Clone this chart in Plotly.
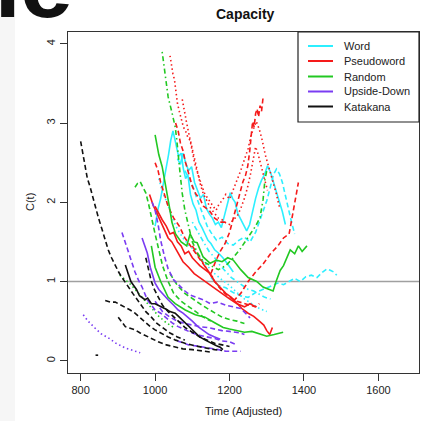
import plotly.graph_objects as go

# ---------------- data ----------------
categories = ["Word", "Pseudoword", "Random", "Upside-Down", "Katakana"]

word_t = [
    [1000,1008,1015,1022,1030,1036,1042,1048,1052,1057,1063,1070,1076,1082,1088,1095,1102,1110,1118,1126,1134,1142,1150,1160,1170,1182,1195,1210],
    [1060,1068,1075,1082,1090,1098,1106,1114,1122,1130,1138,1146,1154,1162,1170,1178,1186,1194,1202,1208,1215,1222,1230,1238,1246,1254,1262,1270,1278,1286,1294,1302,1310,1318,1326,1334,1342,1350],
    [1080,1090,1100,1110,1120,1130,1140,1150,1165,1180,1195,1210,1225,1240,1255,1270,1285,1300,1310,1318,1326,1334,1342,1350,1358,1366,1375],
    [1150,1170,1190,1210,1230,1250,1270,1290,1310,1330,1345,1360,1375,1390,1405,1420,1435,1450,1462,1472,1480,1488],
    [1010,1020,1030,1040,1050,1060,1075,1090,1105,1120,1140,1160,1180,1200,1220,1240,1260,1280,1300],
    [1100,1115,1130,1145,1160,1175,1190,1205,1220,1235,1250,1265,1280,1295,1310],
]
word_c = [
    [1.70,1.92,2.05,2.22,2.45,2.60,2.78,2.90,2.82,2.70,2.58,2.62,2.42,2.30,2.35,2.10,1.98,1.90,1.75,1.68,1.60,1.52,1.48,1.40,1.36,1.30,1.22,1.12],
    [2.55,2.48,2.62,2.50,2.40,2.45,2.25,2.15,2.05,2.10,1.92,1.85,1.80,1.72,1.75,1.68,1.82,1.98,2.12,2.05,2.00,1.86,1.78,1.70,1.64,1.72,1.90,2.05,2.18,2.28,2.35,2.46,2.38,2.26,2.15,2.00,1.88,1.72],
    [2.40,2.30,2.22,2.08,1.95,1.82,1.70,1.62,1.52,1.56,1.48,1.46,1.52,1.56,1.50,1.62,1.82,2.02,2.20,2.35,2.42,2.36,2.25,2.08,1.92,1.76,1.60],
    [1.05,0.95,0.92,0.86,0.82,0.80,0.86,0.90,0.94,0.98,0.96,1.00,1.04,1.00,1.06,1.08,1.05,1.12,1.16,1.14,1.12,1.08],
    [2.30,2.12,2.02,1.88,1.76,1.66,1.55,1.46,1.40,1.30,1.20,1.10,1.02,0.95,0.86,0.78,0.72,0.66,0.62],
    [1.75,1.62,1.50,1.38,1.30,1.20,1.12,1.05,1.00,0.95,0.90,0.88,0.84,0.80,0.78],
]

pseudo_t = [
    [1040,1044,1048,1052,1056,1060,1065,1070,1076,1082,1088,1094,1100,1106,1112,1118,1125,1132,1140,1148,1156,1164,1172,1180,1190,1200,1210,1220,1230,1240,1250,1258,1265,1272,1280,1288,1296,1305,1315,1325,1335],
    [1073,1078,1084,1090,1096,1102,1108,1115,1122,1130,1140,1150,1160,1170,1180,1190,1200,1210,1220,1230,1240,1248,1256,1263,1270,1276,1283,1290,1296,1302],
    [1150,1162,1175,1188,1200,1210,1220,1228,1236,1243,1249,1254,1258,1262,1266,1270,1274,1278,1282,1286,1290],
    [1000,1010,1019,1030,1040,1050,1060,1070,1080,1090,1100,1110,1120,1134,1148,1160,1175,1190,1205,1220,1235,1250,1265,1280,1292,1300,1308,1315],
    [985,995,1005,1015,1025,1035,1045,1055,1065,1075,1090,1105,1120,1140,1160,1180,1200,1220,1240,1255,1270],
    [1100,1120,1140,1160,1180,1200,1220,1240,1255,1270,1280],
    [1000,1008,1015,1025,1035,1050,1065,1080,1095,1110,1125,1140,1155],
    [1055,1062,1068,1075,1082,1090,1100,1110,1120,1130,1145,1160,1175,1190],
    [1210,1230,1250,1270,1290,1310,1330,1345,1360,1368,1375,1380,1385],
]
pseudo_c = [
    [3.85,3.72,3.62,3.55,3.40,3.25,3.15,3.05,2.95,2.90,2.82,2.78,2.62,2.50,2.40,2.32,2.22,2.12,2.06,2.00,1.95,1.90,1.98,2.02,2.10,2.04,2.15,2.28,2.40,2.55,2.68,2.85,2.95,3.02,2.92,2.78,2.60,2.45,2.30,2.12,1.92],
    [3.30,3.15,3.02,2.88,2.75,2.62,2.48,2.35,2.22,2.10,2.00,1.92,1.86,1.80,1.78,1.74,1.72,1.78,1.82,1.92,2.05,2.18,2.35,2.55,2.70,2.62,2.50,2.38,2.25,2.15],
    [1.10,1.25,1.38,1.48,1.62,1.80,1.95,2.12,2.26,2.34,2.46,2.64,2.82,3.02,2.95,3.12,3.18,3.08,3.22,3.15,3.32],
    [1.95,1.85,1.78,1.70,1.60,1.62,1.50,1.45,1.35,1.38,1.30,1.25,1.20,1.15,1.10,1.00,0.92,0.85,0.80,0.72,0.65,0.60,0.56,0.50,0.45,0.38,0.33,0.42],
    [2.10,1.96,1.86,1.75,1.66,1.55,1.50,1.41,1.33,1.25,1.18,1.10,1.05,0.98,0.92,0.85,0.78,0.72,0.68,0.72,0.68],
    [1.45,1.30,1.15,1.00,0.88,0.80,0.75,0.72,0.70,0.68,0.72],
    [2.50,2.40,2.25,2.10,1.95,1.80,1.70,1.55,1.45,1.35,1.25,1.15,1.05],
    [3.00,2.90,2.75,2.65,2.50,2.35,2.20,2.10,2.05,1.95,1.90,1.80,1.75,1.75],
    [0.75,0.85,1.00,1.12,1.22,1.35,1.45,1.55,1.60,1.80,2.00,2.15,2.25],
]

random_t = [
    [1019,1027,1035,1046,1054,1058,1062,1067,1073,1080,1090,1100,1115,1130,1150,1170,1190,1210,1230,1256,1270,1282,1290,1295,1300],
    [1000,1010,1019,1027,1035,1040,1045,1055,1070,1085,1094,1105,1113,1129,1148,1165,1180,1195,1210,1230,1250,1273,1290,1317,1325,1336,1345,1355,1363,1375,1385,1395,1408],
    [946,953,960,968,975,982,990,1000,1010,1020,1035,1050,1070,1090,1110,1130,1150],
    [990,1000,1015,1035,1054,1081,1108,1134,1160,1183,1200,1220,1240,1260,1280,1300,1320,1344],
    [1040,1060,1080,1100,1120,1140,1160,1180,1200,1220,1240],
    [905,920,935,950,965,980,995,1010,1030,1050],
]
random_c = [
    [3.90,3.63,3.33,3.12,2.95,2.80,2.57,2.37,2.11,1.90,1.70,1.50,1.35,1.25,1.20,1.15,1.20,1.30,1.42,1.61,1.70,1.81,2.03,2.28,2.40],
    [2.85,2.60,2.45,2.25,2.07,1.90,1.75,1.60,1.50,1.45,1.60,1.50,1.49,1.31,1.23,1.27,1.25,1.30,1.27,1.15,1.05,1.00,0.93,0.88,1.00,1.14,1.20,1.30,1.40,1.35,1.45,1.38,1.45],
    [2.19,2.24,2.26,2.18,2.12,1.99,1.80,1.60,1.40,1.20,1.00,0.85,0.75,0.68,0.62,0.55,0.50],
    [1.45,1.18,1.00,0.80,0.72,0.64,0.58,0.55,0.48,0.42,0.40,0.38,0.36,0.37,0.34,0.31,0.33,0.36],
    [1.10,0.95,0.85,0.78,0.72,0.66,0.60,0.55,0.52,0.50,0.47],
    [1.08,1.02,0.96,0.88,0.80,0.72,0.64,0.56,0.48,0.42],
]

upside_t = [
    [807,820,839,855,874,895,920,940,960],
    [911,920,933,946,955,965,979,990,1000,1015,1027,1045,1062,1080,1100,1120,1140,1160,1180,1200,1220],
    [965,972,979,987,995,1000,1010,1019,1035,1050,1062,1075,1089,1100,1115,1130,1145,1160,1175],
    [992,1000,1008,1015,1025,1035,1050,1065,1080,1094,1110,1129,1148,1167,1190,1210,1230,1247,1255],
    [1000,1020,1040,1060,1080,1100,1120,1140,1160,1180,1200,1215,1228,1240],
    [1060,1090,1120,1150,1170,1190,1210,1230],
]
upside_c = [
    [0.58,0.50,0.41,0.34,0.29,0.22,0.16,0.13,0.10],
    [1.62,1.49,1.29,1.12,1.02,0.93,0.77,0.70,0.64,0.60,0.55,0.48,0.43,0.39,0.35,0.32,0.30,0.28,0.25,0.24,0.20],
    [1.55,1.45,1.36,1.18,1.05,0.98,0.90,0.85,0.77,0.70,0.64,0.60,0.55,0.50,0.43,0.38,0.33,0.30,0.27],
    [2.00,1.90,1.72,1.52,1.32,1.16,1.02,0.95,0.88,0.83,0.80,0.77,0.72,0.74,0.70,0.68,0.66,0.58,0.54],
    [0.75,0.62,0.55,0.50,0.47,0.45,0.43,0.42,0.40,0.38,0.37,0.36,0.35,0.33],
    [0.25,0.20,0.18,0.16,0.14,0.12,0.12,0.12],
]

kata_t = [
    [800,806,812,818,825,832,840,848,858,866,874,883,893,902,911,920,930,940,950,962,975,990,1005,1020,1040,1060,1080],
    [920,928,935,941,950,958,965,973,980,990,1000,1010,1019,1030,1040,1054,1065,1080,1090,1100,1107,1120,1135,1150,1165,1175,1182],
    [866,880,893,905,920,933,946,960,973,987,1000,1018,1035,1055,1080,1105,1134,1160,1180],
    [901,910,920,933,946,960,973,990,1008,1030,1054,1075,1100,1125,1148],
    [975,982,990,998,1008,1020,1035,1050,1065,1080,1100,1120,1140,1160,1180,1200],
    [840,847],
]
kata_c = [
    [2.77,2.60,2.45,2.30,2.20,2.07,1.95,1.80,1.65,1.52,1.40,1.30,1.20,1.12,1.05,0.98,0.92,0.85,0.78,0.70,0.62,0.55,0.47,0.42,0.35,0.30,0.26],
    [1.21,1.10,1.00,0.96,0.90,0.82,0.80,0.77,0.79,0.72,0.72,0.70,0.68,0.65,0.62,0.60,0.55,0.48,0.43,0.38,0.35,0.30,0.26,0.22,0.19,0.17,0.14],
    [0.76,0.74,0.74,0.71,0.68,0.64,0.60,0.54,0.48,0.43,0.39,0.34,0.30,0.26,0.22,0.19,0.16,0.14,0.13],
    [0.55,0.49,0.43,0.41,0.39,0.35,0.32,0.28,0.24,0.20,0.17,0.15,0.14,0.12,0.11],
    [1.30,1.15,1.00,0.90,0.80,0.70,0.62,0.55,0.48,0.42,0.36,0.30,0.26,0.22,0.20,0.18],
    [0.07,0.07],
]

x_ticks = [800, 1000, 1200, 1400, 1600]
y_ticks = [0, 1, 2, 3, 4]
reference_level = 1

# ---------------- styles ----------------
colors = {"Word": "#2CEFFF", "Pseudoword": "#F51A1A", "Random": "#22C822",
          "Upside-Down": "#7A3CF2", "Katakana": "#111111"}
DASH = {"solid": "solid", "dashed": "5px,3px", "dotted": "1.5px,2.8px",
        "dotdash": "1.5px,3px,5px,3px", "longdash": "8px,3px"}
line_styles = {
    "Word": ["solid", "solid", "dashed", "dashed", "dotted", "dotdash"],
    "Pseudoword": ["dotted", "dotted", "dashed", "solid", "solid", "dashed", "dashed", "dashed", "dashed"],
    "Random": ["dotdash", "solid", "dashed", "solid", "dashed", "dotted"],
    "Upside-Down": ["dotted", "dashed", "solid", "dashed", "dashed", "dashed"],
    "Katakana": ["dashed", "solid", "dashed", "dashed", "dashed", "dashed"],
}
series = {
    "Word": (word_t, word_c),
    "Pseudoword": (pseudo_t, pseudo_c),
    "Random": (random_t, random_c),
    "Upside-Down": (upside_t, upside_c),
    "Katakana": (kata_t, kata_c),
}

fig = go.Figure()
for cat in ["Word", "Pseudoword", "Random", "Upside-Down", "Katakana"]:
    ts, cs = series[cat]
    for i, (t, c) in enumerate(zip(ts, cs)):
        st = line_styles[cat][i]
        fig.add_trace(go.Scatter(
            x=t, y=c, mode="lines", showlegend=False,
            line=dict(color=colors[cat], width=1.6, dash=DASH[st]),
            hoverinfo="skip"))

# ---------------- layout ----------------
W, H = 427, 421
L, R, T, B = 68, 8, 32, 48
PW, PH = W - L - R, H - T - B


def px(xp):
    return (xp - L) / PW


def py(yp):
    return (H - B - yp) / PH


FONT = "Liberation Sans, Arial, Helvetica, sans-serif"
shapes = [
    dict(type="rect", xref="paper", yref="paper", x0=px(0), x1=px(15), y0=py(421), y1=py(0),
         fillcolor="#F6F6F6", line=dict(width=0), layer="below"),
    dict(type="line", xref="paper", yref="y", x0=0, x1=1, y0=reference_level, y1=reference_level,
         line=dict(color="#A0A0A0", width=1.6), layer="below"),
    dict(type="rect", xref="paper", yref="paper", x0=px(298), x1=1, y0=py(122), y1=1,
         fillcolor="white", line=dict(color="#222222", width=1.2)),
]
annotations = []
rows = [46, 61, 76.5, 91.5, 106.5]
for cat, yy in zip(categories, rows):
    shapes.append(dict(type="line", xref="paper", yref="paper", x0=px(308), x1=px(333),
                       y0=py(yy), y1=py(yy), line=dict(color=colors[cat], width=2)))
    annotations.append(dict(text=cat, xref="paper", yref="paper", x=px(342), y=py(yy),
                            xanchor="left", yanchor="middle", showarrow=False,
                            font=dict(family=FONT, size=11, color="#222222")))

annotations += [
    dict(text="Time (Adjusted)", xref="paper", yref="paper", x=px(243), y=py(411),
         xanchor="center", yanchor="middle", showarrow=False,
         font=dict(family=FONT, size=11, color="#222222")),
    dict(text="C(t)", xref="paper", yref="paper", x=px(30), y=py(202), textangle=-90,
         xanchor="center", yanchor="middle", showarrow=False,
         font=dict(family=FONT, size=11, color="#222222")),
    dict(text="<b>Capacity</b>", xref="paper", yref="paper", x=px(245), y=py(14),
         xanchor="center", yanchor="middle", showarrow=False,
         font=dict(family=FONT, size=14, color="#111111")),
    dict(text="<b>ne</b>", xref="paper", yref="paper", x=px(-40), y=py(39),
         xanchor="left", yanchor="bottom", showarrow=False,
         font=dict(family=FONT, size=95, color="#111111")),
]

axis_common = dict(showgrid=False, zeroline=False, showline=True, mirror=True,
                   linecolor="#333333", linewidth=1.3, ticks="outside", ticklen=7,
                   tickcolor="#333333", tickwidth=1.2,
                   tickfont=dict(family=FONT, size=11, color="#222222"))
fig.update_layout(
    width=W, height=H, margin=dict(l=L, r=R, t=T, b=B),
    paper_bgcolor="white", plot_bgcolor="white",
    xaxis=dict(range=[766, 1709], tickvals=x_ticks, ticktext=[str(v) for v in x_ticks], **axis_common),
    yaxis=dict(range=[-0.155, 4.15], tickvals=y_ticks, ticktext=[str(v) for v in y_ticks],
               tickangle=-90, **axis_common),
    shapes=shapes, annotations=annotations, showlegend=False,
)
fig.write_html("out.html", config={"displayModeBar": False},
               post_script="document.body.style.margin='0px';")
